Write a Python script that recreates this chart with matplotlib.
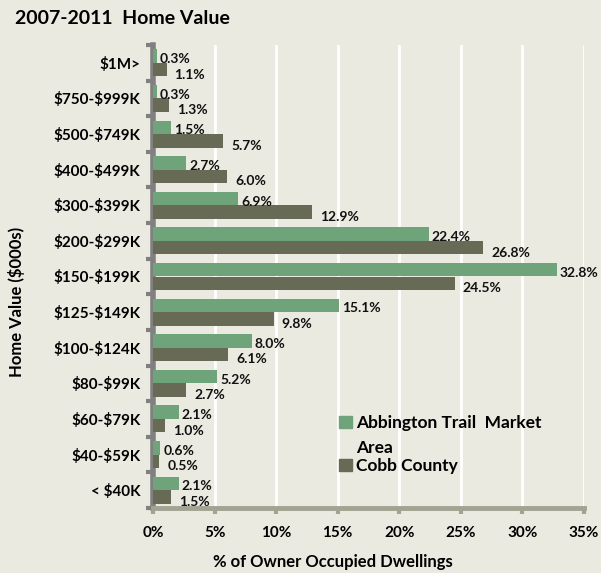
import matplotlib
matplotlib.use("Agg")
import matplotlib.pyplot as plt
import numpy as np
from matplotlib.patches import Rectangle

categories = ["< $40K", "$40-$59K", "$60-$79K", "$80-$99K", "$100-$124K", "$125-$149K",
              "$150-$199K", "$200-$299K", "$300-$399K", "$400-$499K", "$500-$749K",
              "$750-$999K", "$1M>"]
abbington = [2.1, 0.6, 2.1, 5.2, 8.0, 15.1, 32.8, 22.4, 6.9, 2.7, 1.5, 0.3, 0.3]
cobb = [1.5, 0.5, 1.0, 2.7, 6.1, 9.8, 24.5, 26.8, 12.9, 6.0, 5.7, 1.3, 1.1]
xticks = [0, 5, 10, 15, 20, 25, 30, 35]

bg = "#EAEAE0"
green = "#6FA37A"
dark = "#676A55"
plt.rcParams['font.family'] = ["Lato", "DejaVu Sans"]
plt.rcParams['font.weight'] = 'bold'
plt.rcParams['text.parse_math'] = False

fig = plt.figure(figsize=(6.01, 5.73), dpi=100, facecolor=bg)
W, H = 601, 573
ax = fig.add_axes([153 / W, 1 - 508 / H, (584 - 153) / W, (508 - 45) / H], facecolor=bg)

y = np.arange(len(categories))
h = 0.38
ax.barh(y + h / 2, abbington, height=h, color=green, zorder=3)
ax.barh(y - h / 2, cobb, height=h, color=dark, zorder=3)

for yi, a, c in zip(y, abbington, cobb):
    ax.annotate(f"{a:.1f}%", (a, yi + h / 2), xytext=(3, -3), textcoords="offset pixels",
                ha="left", va="center", fontsize=10, fontweight="bold", color="#111111", zorder=4)
    ax.annotate(f"{c:.1f}%", (c, yi - h / 2), xytext=(8, -5), textcoords="offset pixels",
                ha="left", va="center", fontsize=10, fontweight="bold", color="#111111", zorder=4)

ax.set_xlim(0, 35)
ax.set_ylim(-0.5, len(categories) - 0.5)
ax.set_xticks(xticks)
ax.set_xticklabels([f"{t}%" for t in xticks], fontsize=11, fontweight="bold")
ax.set_yticks(y)
ax.set_yticklabels(categories, fontsize=11, fontweight="bold")
ax.set_yticks(np.arange(-0.5, len(categories), 1), minor=True)
ax.tick_params(axis="y", which="major", length=0, pad=9)
ax.tick_params(axis="y", which="minor", length=5, width=3, color="#808080")
ax.tick_params(axis="x", length=4, width=3, color="#A3A393", pad=9)

ax.grid(axis="x", color="white", linewidth=2, zorder=0)
for s in ["top", "right"]:
    ax.spines[s].set_visible(False)
ax.spines["left"].set_color("#808080")
ax.spines["left"].set_linewidth(4)
ax.spines["bottom"].set_color("#A3A393")
ax.spines["bottom"].set_linewidth(3.5)

fig.text(15 / W, 1 - 19 / H, "2007-2011  Home Value", fontsize=14, fontweight="bold",
         ha="left", va="center")
fig.text(333 / W, 1 - 562 / H, "% of Owner Occupied Dwellings", fontsize=12, fontweight="bold",
         ha="center", va="center")
fig.text(17 / W, 1 - 302 / H, "Home Value ($000s)", fontsize=12, fontweight="bold",
         ha="center", va="center", rotation=90)

# legend (manual so the swatch lines up with the first line of the wrapped label)
legend_labels = ["Abbington Trail  Market", "Area", "Cobb County"]
fig.patches.append(Rectangle((339 / W, 1 - 428 / H), 13 / W, 12 / H, color=green,
                             transform=fig.transFigure, figure=fig))
fig.patches.append(Rectangle((339 / W, 1 - 471 / H), 13 / W, 12 / H, color=dark,
                             transform=fig.transFigure, figure=fig))
for lab, yy in zip(legend_labels, [423, 448, 466]):
    fig.text(356 / W, 1 - yy / H, lab, fontsize=12.5, fontweight="bold", ha="left", va="center")

fig.savefig("out.png", dpi=100, facecolor=bg)
